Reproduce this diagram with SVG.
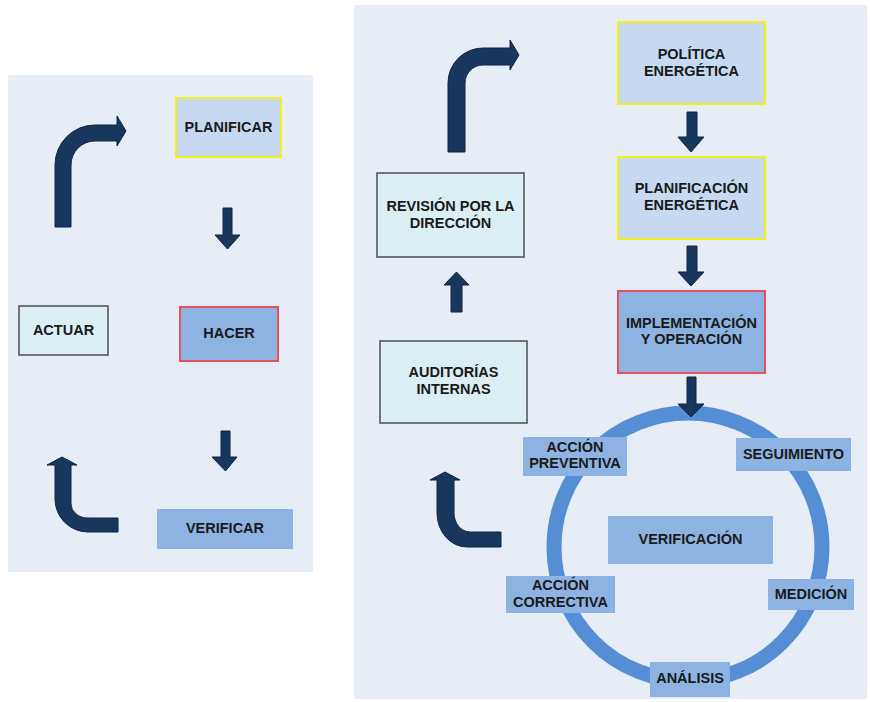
<svg xmlns="http://www.w3.org/2000/svg" width="870" height="702" viewBox="0 0 870 702">
<style>
.bg{fill:#e7edf7}
.lt{fill:#c6d9f1;stroke:#f2f21a;stroke-width:2}
.md{fill:#8db3e2;stroke:#e8505c;stroke-width:2}
.pl{fill:#8db3e2}
.cy{fill:#dbeef4;stroke:#4d4d4d;stroke-width:1.5}
.ar{fill:#17375e;stroke:#0f243e;stroke-width:1}
text{font-family:"Liberation Sans",Arial,sans-serif;font-weight:bold;font-size:14.5px;fill:#1a1a1a;text-anchor:middle}
</style>
<rect class="bg" x="8" y="75" width="305" height="497"/>
<rect class="bg" x="354" y="5" width="513" height="694"/>
<circle cx="688" cy="547" r="134" fill="none" stroke="#558ed5" stroke-width="15"/>
<g id="connectors">
<path class="ar" d="M223,208 H232 V235 H240 L227.5,249 L215,235 H223 Z"/>
<path class="ar" d="M221,431 H230 V457 H237 L225.5,471 L212,457 H221 Z"/>
<path class="ar" d="M55,227 V165 A40,40 0 0 1 95,125 H117 V116 L126,131 L117,146 V141 H95 A24,24 0 0 0 71,165 V227 Z"/>
<path class="ar" d="M118,518 H88 A17,14 0 0 1 71,504 V465 H77 L62,457 L47,465 H55 V499 A33,33 0 0 0 88,532 H118 Z"/>
<path class="ar" d="M687,112 H697 V137 H704 L691,152 L678,137 H687 Z"/>
<path class="ar" d="M687,246 H697 V272 H704 L691,286 L678,272 H687 Z"/>
<path class="ar" d="M687,377 H696 V404 H704 L691,417 L678,404 H687 Z"/>
<path class="ar" d="M451,312 V285 H444 L456.5,272 L469,285 H462 V312 Z"/>
<path class="ar" d="M448,152 V83 A35,35 0 0 1 483,48 H510 V40 L519,55 L510,70 V65 H483 A18,18 0 0 0 465,83 V152 Z"/>
<path class="ar" d="M501,532 H470 A16,19 0 0 1 454,513 V480 H460 L445,472 L430,480 H437 V513 A30,34 0 0 0 467,547 H501 Z"/>
</g>
<g id="planificar"><rect class="lt" x="176" y="98" width="105" height="59"/><text x="228.5" y="132">PLANIFICAR</text></g>
<g id="actuar"><rect class="cy" x="19" y="306" width="89" height="49"/><text x="63.5" y="335">ACTUAR</text></g>
<g id="hacer"><rect class="md" x="180" y="307" width="98" height="54"/><text x="229" y="338">HACER</text></g>
<g id="verificar"><rect class="pl" x="157" y="509" width="136" height="40"/><text x="225" y="533">VERIFICAR</text></g>
<g id="politica"><rect class="lt" x="618" y="22" width="147" height="82"/><text x="691.5" y="59">POLÍTICA</text><text x="691.5" y="76">ENERGÉTICA</text></g>
<g id="planificacion"><rect class="lt" x="618" y="157" width="147" height="82"/><text x="691.5" y="193">PLANIFICACIÓN</text><text x="691.5" y="210">ENERGÉTICA</text></g>
<g id="implementacion"><rect class="md" x="618" y="291" width="147" height="82"/><text x="691.5" y="327.5">IMPLEMENTACIÓN</text><text x="691.5" y="344">Y OPERACIÓN</text></g>
<g id="revision"><rect class="cy" x="377" y="173" width="147" height="84"/><text x="450.5" y="211">REVISIÓN POR LA</text><text x="450.5" y="228">DIRECCIÓN</text></g>
<g id="auditorias"><rect class="cy" x="380" y="341" width="147" height="82"/><text x="453.5" y="377">AUDITORÍAS</text><text x="453.5" y="394">INTERNAS</text></g>
<g id="verificacion"><rect class="pl" x="608" y="516" width="165" height="48"/><text x="690.5" y="544">VERIFICACIÓN</text></g>
<g id="preventiva"><rect class="pl" x="523" y="437" width="104" height="39"/><text x="575" y="452">ACCIÓN</text><text x="575" y="468">PREVENTIVA</text></g>
<g id="seguimiento"><rect class="pl" x="736" y="438" width="115" height="33"/><text x="793.5" y="459">SEGUIMIENTO</text></g>
<g id="correctiva"><rect class="pl" x="506" y="576" width="109" height="37"/><text x="560.5" y="590">ACCIÓN</text><text x="560.5" y="607">CORRECTIVA</text></g>
<g id="medicion"><rect class="pl" x="768" y="579" width="86" height="31"/><text x="811" y="599">MEDICIÓN</text></g>
<g id="analisis"><rect class="pl" x="650" y="662" width="80" height="35"/><text x="690" y="683">ANÁLISIS</text></g>
</svg>
